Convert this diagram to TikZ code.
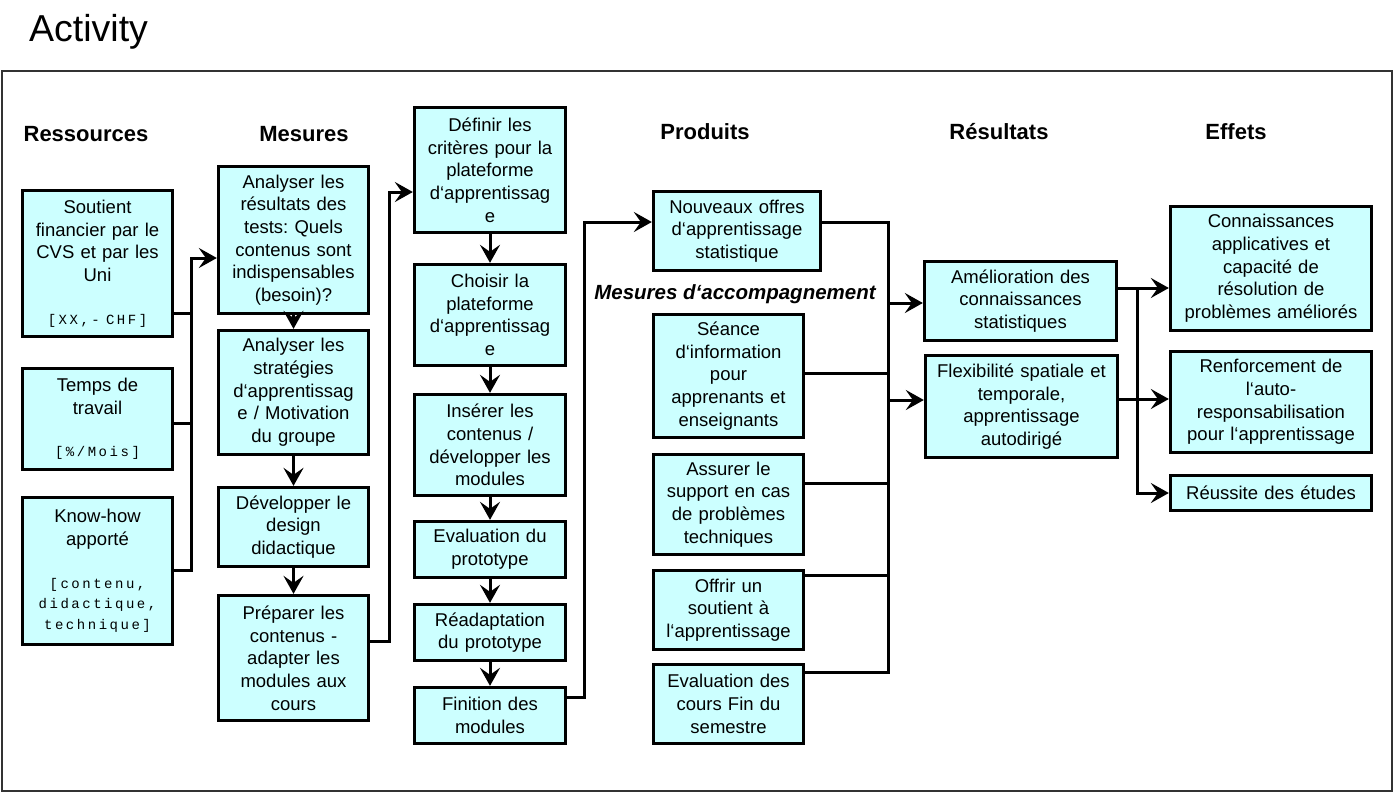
\documentclass[tikz,border=0pt]{standalone}
\usepackage{fontspec}
\setmainfont{Liberation Sans}
\newfontfamily\monof[LetterSpace=18]{Liberation Mono}
\usetikzlibrary{arrows.meta}
\definecolor{boxc}{HTML}{CCFFFF}
\frenchspacing
\newcommand\bodyf{\fontsize{18.5}{22.7}\selectfont}
\newcommand\monot{\monof\fontsize{14}{20.7}\selectfont}
\begin{document}
\begin{tikzpicture}[x=1pt,y=-1pt,
 bx/.style={draw=black,line width=3.3pt,fill=boxc,align=center,inner sep=0pt,font=\bodyf},
 ln/.style={line width=3pt,black},
 arr/.style={ln,-{Stealth[length=18pt,width=20pt,inset=7pt]}},
 hdr/.style={font=\fontsize{22}{26}\selectfont\bfseries,anchor=base,inner sep=0pt}]
\useasboundingbox (0,0) rectangle (1395,792);
\node[anchor=base west,inner sep=0pt,font=\fontsize{37.5}{40}\selectfont] (title) at (29,42) {Activity};
\draw[line width=1.8pt,black!80] (2,71) rectangle (1392,791);

\node[hdr] (h1) at (86,141) {Ressources};
\node[hdr] (h2) at (304,141) {Mesures};
\node[hdr] (h3) at (705,139) {Produits};
\node[hdr] (h4) at (999,139) {Résultats};
\node[hdr] (h5) at (1236,139) {Effets};
\node[anchor=base,inner sep=0pt,font=\fontsize{20.5}{24}\selectfont\bfseries\itshape] (macc) at (735,299) {Mesures d‘accompagnement};

% Ressources
\node[bx,minimum width=150pt,minimum height=146pt,text width=150pt] (sout) at (97.5,263.5)
 {Soutient\\financier par le\\CVS et par les\\Uni\\[22pt]{\monot [XX,-~CHF]\par}};
\node[bx,minimum width=150pt,minimum height=101pt,text width=150pt] (temps) at (97.5,419)
 {Temps de\\travail\\[22pt]{\monot [\%/Mois]\par}};
\node[bx,minimum width=150pt,minimum height=147pt,text width=150pt] (know) at (97.5,571)
 {Know-how\\apporté\\[22pt]{\monot [contenu,\\didactique,\\technique]\par}};

% Mesures
\node[bx,minimum width=150pt,minimum height=147pt,text width=150pt] (ar) at (293.5,240)
 {Analyser les\\résultats des\\tests: Quels\\contenus sont\\indispensables\\(besoin)?};
\node[bx,minimum width=150pt,minimum height=124pt,text width=150pt] (as) at (293.5,392.5)
 {Analyser les\\stratégies\\d‘apprentissag\\e / Motivation\\du groupe};
\node[bx,minimum width=150pt,minimum height=79pt,text width=150pt] (dev) at (293.5,527)
 {Développer le\\design\\didactique};
\node[bx,minimum width=150pt,minimum height=125pt,text width=150pt] (prep) at (293.5,658)
 {Préparer les\\contenus -\\adapter les\\modules aux\\cours};

% third column
\node[bx,minimum width=151pt,minimum height=125pt,text width=151pt] (def) at (490,170)
 {Définir les\\critères pour la\\plateforme\\d‘apprentissag\\e};
\node[bx,minimum width=151pt,minimum height=101pt,text width=151pt] (cho) at (490,315)
 {Choisir la\\plateforme\\d‘apprentissag\\e};
\node[bx,minimum width=151pt,minimum height=101pt,text width=151pt] (ins) at (490,445)
 {Insérer les\\contenus /\\développer les\\modules};
\node[bx,minimum width=151pt,minimum height=56pt,text width=151pt] (eval) at (490,549.5)
 {Evaluation du\\prototype};
\node[bx,minimum width=151pt,minimum height=56pt,text width=151pt] (read) at (490,632.5)
 {Réadaptation\\du prototype};
\node[bx,minimum width=151pt,minimum height=56pt,text width=151pt] (fin) at (490,715.5)
 {Finition des\\modules};

% Produits
\node[bx,minimum width=167pt,minimum height=79pt,text width=167pt] (nouv) at (737,231)
 {Nouveaux offres\\d‘apprentissage\\statistique};
\node[bx,minimum width=150pt,minimum height=123pt,text width=150pt] (sean) at (728.5,376)
 {Séance\\d‘information\\pour\\apprenants et\\enseignants};
\node[bx,minimum width=150pt,minimum height=100pt,text width=150pt] (ass) at (728.5,504.5)
 {Assurer le\\support en cas\\de problèmes\\techniques};
\node[bx,minimum width=150pt,minimum height=79pt,text width=150pt] (off) at (728.5,610)
 {Offrir un\\soutient à\\l‘apprentissage};
\node[bx,minimum width=150pt,minimum height=79pt,text width=150pt] (evc) at (728.5,704)
 {Evaluation des\\cours Fin du\\semestre};

% Resultats
\node[bx,minimum width=192pt,minimum height=79pt,text width=192pt] (amel) at (1020.5,301)
 {Amélioration des\\connaissances\\statistiques};
\node[bx,minimum width=192pt,minimum height=102pt,text width=192pt] (flex) at (1021.5,406.5)
 {Flexibilité spatiale et\\temporale,\\apprentissage\\autodirigé};

% Effets
\node[bx,minimum width=201pt,minimum height=124pt,text width=201pt] (conn) at (1271,268.5)
 {Connaissances\\applicatives et\\capacité de\\résolution de\\problèmes améliorés};
\node[bx,minimum width=201pt,minimum height=101pt,text width=201pt] (renf) at (1271,402)
 {Renforcement de\\l‘auto-\\responsabilisation\\pour l‘apprentissage};
\node[bx,minimum width=201pt,minimum height=35pt,text width=201pt] (reus) at (1271,493)
 {Réussite des études};

% connectors: ressources -> mesures
\draw[ln] (sout.east |- 0,313) -- (191,313);
\draw[ln] (temps.east |- 0,423) -- (191,423);
\draw[arr] (know.east |- 0,570) -| (191,258) -- (ar.west |- 0,258);

% vertical chains
\draw[arr] (ar.south) -- (as.north);
\draw[arr] (as.south) -- (dev.north);
\draw[arr] (dev.south) -- (prep.north);
\draw[arr] (def.south) -- (cho.north);
\draw[arr] (cho.south) -- (ins.north);
\draw[arr] (ins.south) -- (eval.north);
\draw[arr] (eval.south) -- (read.north);
\draw[arr] (read.south) -- (fin.north);

% cross-column links
\draw[arr] (prep.east |- 0,641) -| (389,192) -- (def.west |- 0,192);
\draw[arr] (fin.east |- 0,697) -| (584,222) -- (nouv.west |- 0,222);

% produits bus
\draw[ln] (nouv.east |- 0,222) -| (888,672) -- (evc.east |- 0,672);
\draw[ln] (sean.east |- 0,373) -- (888,373);
\draw[ln] (ass.east |- 0,483) -- (888,483);
\draw[ln] (off.east |- 0,575) -- (888,575);
\draw[arr] (888,303) -- (amel.west |- 0,303);
\draw[arr] (888,400) -- (flex.west |- 0,400);

% resultats -> effets
\draw[arr] (amel.east |- 0,288) -- (conn.west |- 0,288);
\draw[arr] (flex.east |- 0,399) -- (renf.west |- 0,399);
\draw[arr] (1137,288) |- (reus.west |- 0,493);
\end{tikzpicture}
\end{document}
